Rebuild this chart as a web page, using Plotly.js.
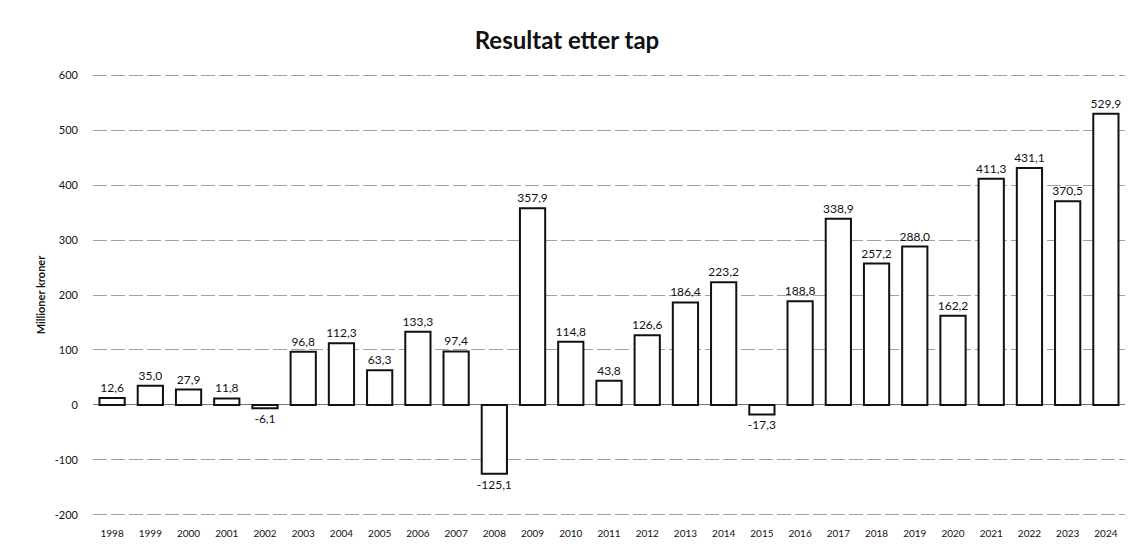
<!DOCTYPE html>
<html><head><meta charset="utf-8">
<script src="https://cdn.plot.ly/plotly-3.0.1.min.js"></script>
<style>html,body{margin:0;padding:0;background:#fff}#chart{width:1134px;height:547px}</style>
</head><body><div id="chart"></div>
<script>
const years = ["1998","1999","2000","2001","2002","2003","2004","2005","2006","2007","2008","2009","2010","2011","2012","2013","2014","2015","2016","2017","2018","2019","2020","2021","2022","2023","2024"];
const resultat = [12.6,35.0,27.9,11.8,-6.1,96.8,112.3,63.3,133.3,97.4,-125.1,357.9,114.8,43.8,126.6,186.4,223.2,-17.3,188.8,338.9,257.2,288.0,162.2,411.3,431.1,370.5,529.9];
const yTicks = [-200,-100,0,100,200,300,400,500,600];

const font = "Lato, 'Open Sans', sans-serif";
Plotly.newPlot('chart', [{
  type: 'bar', x: years, y: resultat,
  marker: {color: '#ffffff', line: {color: '#111111', width: 2}},
  texttemplate: '%{y:.1f}', textposition: 'outside', cliponaxis: false, constraintext: 'none',
  textfont: {family: font, size: 12, color: '#111'},
  hoverinfo: 'x+y'
}], {
  width: 1134, height: 547,
  separators: ', ',
  paper_bgcolor: '#fff', plot_bgcolor: '#fff',
  margin: {l: 93, r: 9, t: 74, b: 31},
  bargap: 0.34,
  title: {text: '<b>Resultat etter tap</b>', x: 0.5, xanchor: 'center', y: 0.925, yanchor: 'middle',
    font: {family: font, size: 24, color: '#111'}},
  xaxis: {type: 'category', tickfont: {family: font, size: 10, color: '#111'}, showgrid: false,
    showline: false, ticks: '', ticklen: 0, ticklabelstandoff: 10, automargin: false},
  yaxis: {range: [-202, 602], tickvals: yTicks, ticktext: yTicks.map(String),
    tickfont: {family: font, size: 11, color: '#111'}, showgrid: true, gridcolor: '#a0a0a0', gridwidth: 1,
    griddash: '14px,4px', zeroline: true, zerolinecolor: '#777', zerolinewidth: 1,
    showline: false, ticks: '', ticklabelstandoff: 14, automargin: false,
    title: {text: '<b>Millioner kroner</b>', standoff: 6, font: {family: font, size: 11, color: '#111'}}}
}, {displayModeBar: false, staticPlot: true});
</script></body></html>
